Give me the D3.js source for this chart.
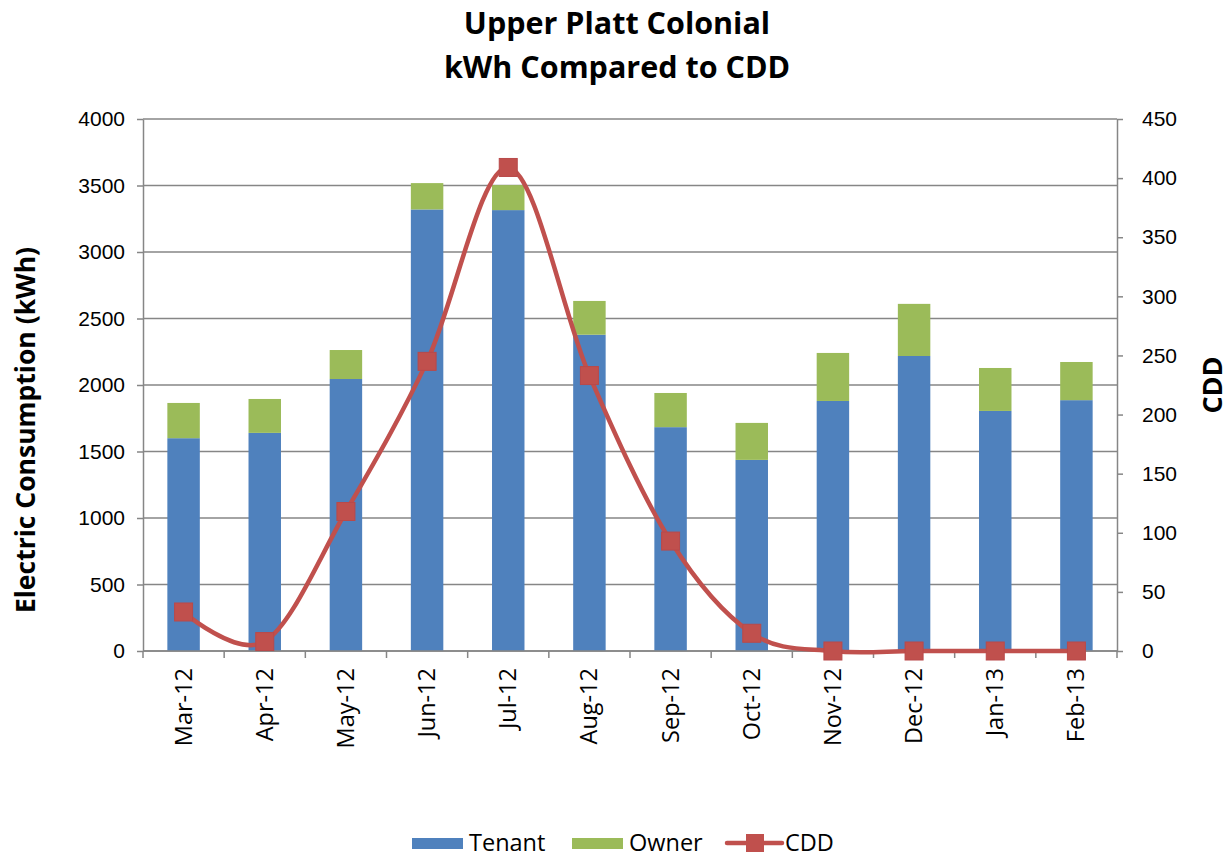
<!DOCTYPE html>
<html>
<head>
<meta charset="utf-8">
<script src="https://cdn.jsdelivr.net/npm/d3@7"></script>
<style>
  body { margin: 0; background: #fff; }
  svg { font-family: "Open Sans", Lato, sans-serif; }
</style>
</head>
<body>
<svg id="chart" width="1231" height="857"></svg>
<script>
var months = ["Mar-12", "Apr-12", "May-12", "Jun-12", "Jul-12", "Aug-12", "Sep-12", "Oct-12", "Nov-12", "Dec-12", "Jan-13", "Feb-13"];
var tenant = [1600, 1640, 2045, 3320, 3315, 2378, 1683, 1437, 1880, 2218, 1805, 1886];
var owner = [265, 255, 218, 198, 188, 254, 257, 278, 361, 392, 323, 287];
var cdd = [33, 8, 118, 245, 409, 233, 93, 15, 0, 0, 0, 0];
var leftTicks = [0, 500, 1000, 1500, 2000, 2500, 3000, 3500, 4000];
var rightTicks = [0, 50, 100, 150, 200, 250, 300, 350, 400, 450];

var svg = d3.select("#chart"),
    margin = { top: 119, right: 114, bottom: 206, left: 143 },
    width = +svg.attr("width") - margin.left - margin.right,
    height = +svg.attr("height") - margin.top - margin.bottom;

var rows = months.map(function (m, i) {
    return { month: m, Tenant: tenant[i], Owner: owner[i], CDD: cdd[i] };
});

var x = d3.scaleBand().domain(months).range([0, width]),
    yL = d3.scaleLinear().domain([0, 4000]).range([height, 0]),
    yR = d3.scaleLinear().domain([0, 450]).range([height, 0]);

var g = svg.append("g")
    .attr("transform", "translate(" + margin.left + "," + margin.top + ")");

// gridlines
g.selectAll(".grid")
    .data(leftTicks)
    .enter().append("line")
    .attr("x1", 0).attr("x2", width)
    .attr("y1", d => yL(d)).attr("y2", d => yL(d))
    .attr("stroke", "#868686").attr("stroke-width", 1.5);

// stacked bars
var stack = d3.stack().keys(["Tenant", "Owner"])(rows);
var colors = { Tenant: "#4F81BD", Owner: "#9BBB59" };
var barW = x.bandwidth() * 0.4;

g.selectAll(".layer")
    .data(stack)
    .enter().append("g")
    .attr("fill", d => colors[d.key])
    .selectAll("rect")
    .data(d => d)
    .enter().append("rect")
    .attr("x", d => x(d.data.month) + (x.bandwidth() - barW) / 2)
    .attr("y", d => yL(d[1]))
    .attr("width", barW)
    .attr("height", d => yL(d[0]) - yL(d[1]));

// axes
var axisStyle = function (sel) {
    sel.selectAll("path, line").attr("stroke", "#868686").attr("stroke-width", 1.5);
    sel.selectAll("text").attr("fill", "#000").style("font-size", "21px");
};

g.append("g")
    .call(d3.axisLeft(yL).tickValues(leftTicks).tickFormat(d3.format("d")).tickSize(6).tickSizeOuter(0).tickPadding(12))
    .call(axisStyle);

g.append("g")
    .attr("transform", "translate(" + width + ",0)")
    .call(d3.axisRight(yR).tickValues(rightTicks).tickFormat(d3.format("d")).tickSize(6).tickSizeOuter(0).tickPadding(19))
    .call(axisStyle);

// x axis: ticks at category boundaries
var xAxis = g.append("g").attr("transform", "translate(0," + height + ")");
xAxis.append("line").attr("x1", 0).attr("x2", width)
    .attr("stroke", "#868686").attr("stroke-width", 1.5);
xAxis.selectAll(".xt")
    .data(d3.range(months.length + 1))
    .enter().append("line")
    .attr("x1", i => i * x.step()).attr("x2", i => i * x.step())
    .attr("y1", 0).attr("y2", 7)
    .attr("stroke", "#868686").attr("stroke-width", 1.5);
xAxis.selectAll(".xl")
    .data(months)
    .enter().append("text")
    .attr("transform", d => "translate(" + (x(d) + x.bandwidth() / 2 + 8) + ",17) rotate(-90)")
    .attr("text-anchor", "end")
    .style("font-size", "23.5px")
    .text(d => d);

// CDD line
var line = d3.line()
    .x(d => x(d.month) + x.bandwidth() / 2)
    .y(d => yR(d.CDD))
    .curve(d3.curveCatmullRom.alpha(0));

g.append("path")
    .datum(rows)
    .attr("fill", "none")
    .attr("stroke", "#C0504D")
    .attr("stroke-width", 4.5)
    .attr("d", line);

g.selectAll(".marker")
    .data(rows)
    .enter().append("rect")
    .attr("x", d => x(d.month) + x.bandwidth() / 2 - 9)
    .attr("y", d => yR(d.CDD) - 9)
    .attr("width", 18).attr("height", 18)
    .attr("fill", "#C0504D")
    .attr("stroke", "#B9494A").attr("stroke-width", 1);

// titles
svg.append("text")
    .attr("x", 617).attr("y", 34)
    .attr("text-anchor", "middle")
    .style("font-size", "30.5px").style("font-weight", 700)
    .text("Upper Platt Colonial");
svg.append("text")
    .attr("x", 617).attr("y", 78)
    .attr("text-anchor", "middle")
    .style("font-size", "30.5px").style("font-weight", 700)
    .text("kWh Compared to CDD");

svg.append("text")
    .attr("transform", "translate(35,430) rotate(-90)")
    .attr("text-anchor", "middle")
    .style("font-size", "26.5px").style("font-weight", 700)
    .text("Electric Consumption (kWh)");

svg.append("text")
    .attr("transform", "translate(1222," + (margin.top + height / 2) + ") rotate(-90)")
    .attr("text-anchor", "middle")
    .style("font-size", "27px").style("font-weight", 700)
    .text("CDD");

// legend
var legend = svg.append("g").attr("transform", "translate(0,843)");
legend.append("rect").attr("x", 412).attr("y", -5).attr("width", 51).attr("height", 11).attr("fill", colors.Tenant);
legend.append("text").attr("x", 469).attr("y", 8).style("font-size", "23.5px").text("Tenant");
legend.append("rect").attr("x", 572).attr("y", -5).attr("width", 51).attr("height", 11).attr("fill", colors.Owner);
legend.append("text").attr("x", 629).attr("y", 8).style("font-size", "23.5px").text("Owner");
legend.append("line").attr("x1", 727).attr("x2", 782).attr("y1", 0).attr("y2", 0)
    .attr("stroke", "#C0504D").attr("stroke-width", 4.5).attr("stroke-linecap", "round");
legend.append("rect").attr("x", 746).attr("y", -9).attr("width", 18).attr("height", 18).attr("fill", "#C0504D");
legend.append("text").attr("x", 785).attr("y", 8).style("font-size", "23.5px").text("CDD");
</script>
</body>
</html>
